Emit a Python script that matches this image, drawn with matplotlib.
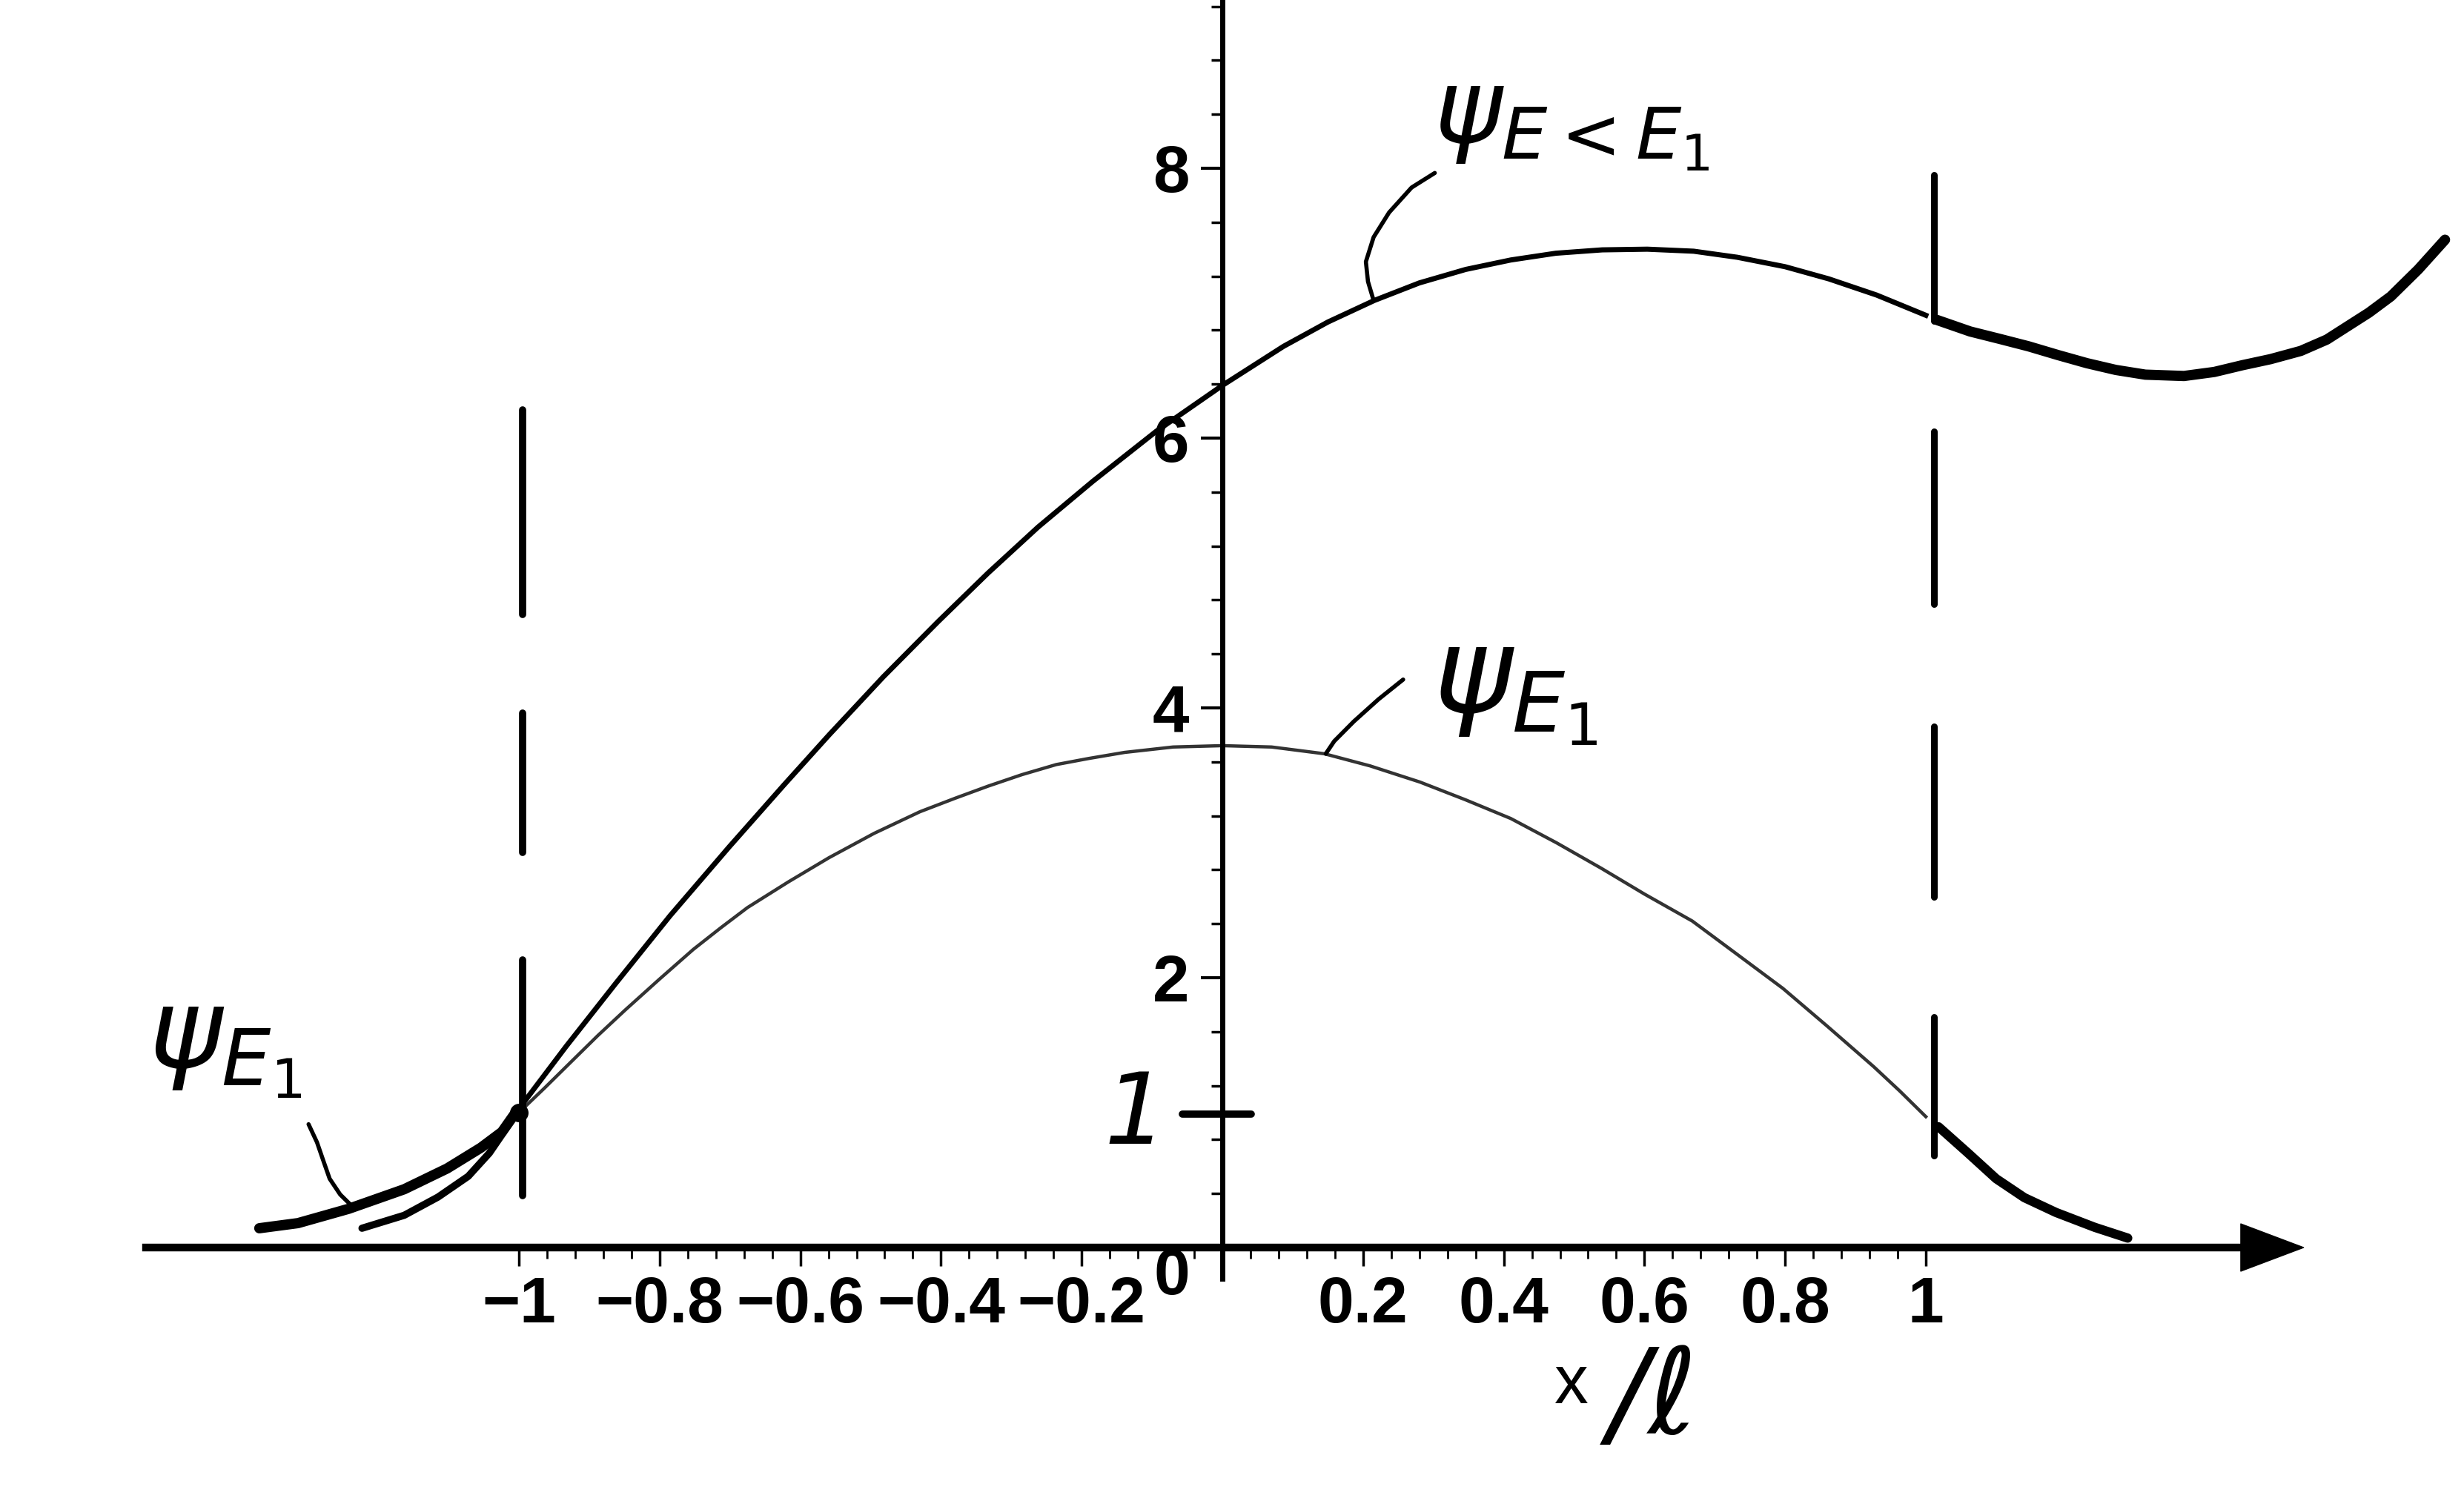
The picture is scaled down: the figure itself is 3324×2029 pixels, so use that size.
import numpy as np
import matplotlib
matplotlib.use("Agg")
import matplotlib.pyplot as plt

# psi_E1 inside the well (thin printed curve)
psi1_in_x = [-1.0, -0.963, -0.927, -0.888, -0.849, -0.80, -0.752, -0.713, -0.675, -0.617,
             -0.559, -0.495, -0.43, -0.38, -0.333, -0.285, -0.236, -0.19, -0.139, -0.07,
             0.0, 0.07, 0.145, 0.21, 0.281, 0.345, 0.41, 0.475, 0.539, 0.60,
             0.668, 0.73, 0.797, 0.86, 0.926, 0.963, 1.0]
psi1_in_y = [1.0, 1.185, 1.37, 1.57, 1.76, 1.99, 2.21, 2.37, 2.52, 2.71,
             2.89, 3.07, 3.23, 3.33, 3.42, 3.505, 3.58, 3.625, 3.67, 3.71,
             3.72, 3.71, 3.66, 3.57, 3.45, 3.32, 3.18, 3.00, 2.81, 2.62,
             2.42, 2.18, 1.92, 1.64, 1.34, 1.16, 0.97]

# psi_{E<E1} inside the well (printed curve)
psi0_in_x = [-1.004, -0.933, -0.862, -0.785, -0.701, -0.623, -0.559, -0.482, -0.404, -0.333,
             -0.262, -0.184, -0.094, 0.0, 0.087, 0.15, 0.216, 0.28, 0.346, 0.41,
             0.474, 0.54, 0.604, 0.67, 0.732, 0.80, 0.862, 0.93, 1.0]
psi0_in_y = [1.00, 1.49, 1.96, 2.46, 2.97, 3.43, 3.80, 4.23, 4.64, 5.00,
             5.34, 5.68, 6.05, 6.39, 6.68, 6.86, 7.02, 7.15, 7.25, 7.32,
             7.37, 7.395, 7.40, 7.385, 7.34, 7.27, 7.18, 7.06, 6.91]

# hand drawn parts outside the well
psi1_left_x = [-1.369, -1.314, -1.242, -1.163, -1.102, -1.054, -1.024, -1.006]
psi1_left_y = [0.143, 0.181, 0.287, 0.432, 0.586, 0.74, 0.857, 0.99]
psi0_left_x = [-1.223, -1.163, -1.115, -1.072, -1.042, -1.024, -1.007]
psi0_left_y = [0.143, 0.239, 0.374, 0.528, 0.70, 0.837, 0.98]
psi0_right_x = [1.016, 1.063, 1.105, 1.146, 1.188, 1.229, 1.27, 1.312, 1.367, 1.41,
                1.45, 1.49, 1.533, 1.57, 1.60, 1.63, 1.661, 1.70, 1.738]
psi0_right_y = [6.875, 6.79, 6.735, 6.68, 6.615, 6.555, 6.505, 6.47, 6.46, 6.49,
                6.54, 6.585, 6.646, 6.73, 6.83, 6.93, 7.05, 7.25, 7.47]
psi1_right_x = [1.018, 1.06, 1.10, 1.14, 1.185, 1.24, 1.287]
psi1_right_y = [0.895, 0.70, 0.51, 0.37, 0.26, 0.15, 0.07]

# dashed walls of the well (dash tops / bottoms)
wall_left_x = -0.995
wall_left_top = [6.21, 3.96, 2.13]
wall_left_bot = [4.69, 2.93, 0.385]
wall_right_x = 1.012
wall_right_top = [7.95, 6.05, 3.86, 1.71]
wall_right_bot = [6.87, 4.77, 2.60, 0.68]

# leader lines of the hand written labels
lead_top_x = [0.302, 0.269, 0.237, 0.215, 0.204, 0.207, 0.215]
lead_top_y = [7.965, 7.857, 7.672, 7.489, 7.307, 7.16, 7.02]
lead_mid_x = [0.257, 0.222, 0.187, 0.159, 0.147]
lead_mid_y = [4.21, 4.064, 3.90, 3.753, 3.66]
lead_left_x = [-1.299, -1.287, -1.278, -1.269, -1.254, -1.239]
lead_left_y = [0.914, 0.78, 0.644, 0.51, 0.393, 0.316]

x_major = [-1, -0.8, -0.6, -0.4, -0.2, 0.2, 0.4, 0.6, 0.8, 1]
x_labels = ["\u22121", "\u22120.8", "\u22120.6", "\u22120.4", "\u22120.2",
            "0.2", "0.4", "0.6", "0.8", "1"]
y_major = [2, 4, 6, 8]
y_labels = ["2", "4", "6", "8"]

plt.rcParams["mathtext.fontset"] = "dejavusans"

fig = plt.figure(figsize=(33.24, 20.29), dpi=100)
ax = fig.add_axes([0, 0, 1, 1])
ax.set_xlim(-1.7376, 1.7650)
ax.set_ylim(-1.901, 9.247)

# axes through the origin
ax.spines["top"].set_visible(False)
ax.spines["right"].set_visible(False)
ax.spines["left"].set_position(("data", 0))
ax.spines["bottom"].set_position(("data", 0))
ax.spines["bottom"].set_bounds(-1.53, 1.45)
ax.spines["left"].set_bounds(-0.23, 9.3)
ax.spines["bottom"].set_linewidth(7.5)
ax.spines["left"].set_linewidth(5)
ax.annotate("", xy=(1.537, 0), xytext=(1.40, 0),
            arrowprops=dict(facecolor="black", edgecolor="black", width=1,
                            headwidth=46, headlength=61, shrink=0))

ax.set_xticks(x_major)
ax.set_xticklabels(x_labels)
ax.set_xticks(np.round(np.arange(-1, 1.0001, 0.04), 2), minor=True)
ax.set_yticks(y_major)
ax.set_yticklabels(y_labels)
ax.set_yticks(np.round(np.arange(0.4, 9.25, 0.4), 2), minor=True)
ax.tick_params(axis="x", which="major", direction="out", length=18, width=2.5, pad=9,
               labelsize=63, labelfontfamily="Liberation Sans")
ax.tick_params(axis="x", which="minor", direction="out", length=11, width=2)
ax.tick_params(axis="y", which="major", direction="out", length=21, width=3, pad=11,
               labelsize=64, labelfontfamily="Liberation Sans")
ax.tick_params(axis="y", which="minor", direction="out", length=11, width=2.5)
for lab in ax.get_xticklabels() + ax.get_yticklabels():
    lab.set_fontweight("bold")
ax.text(-0.0717, -0.225, "0", fontsize=63, family="Liberation Sans", fontweight="bold",
        ha="center", va="center")

# curves
ax.plot(psi1_in_x, psi1_in_y, color="0.2", lw=3.2)
ax.plot(psi0_in_x, psi0_in_y, color="black", lw=5)
ax.plot(psi1_left_x, psi1_left_y, color="black", lw=10, solid_capstyle="round")
ax.plot(psi0_left_x, psi0_left_y, color="black", lw=7, solid_capstyle="round")
ax.plot(psi0_right_x, psi0_right_y, color="black", lw=10, solid_capstyle="round")
ax.plot(psi1_right_x, psi1_right_y, color="black", lw=9, solid_capstyle="round")
ax.plot([-1], [1], "o", color="black", markersize=17)

wl = ax.vlines([wall_left_x] * 3, wall_left_bot, wall_left_top, color="black", lw=7)
wr = ax.vlines([wall_right_x] * 4, wall_right_bot, wall_right_top, color="black", lw=6.5)
wl.set_capstyle("round")
wr.set_capstyle("round")

# leader lines and hand written labels
for lx, ly in [(lead_top_x, lead_top_y), (lead_mid_x, lead_mid_y), (lead_left_x, lead_left_y)]:
    ax.plot(lx, ly, color="black", lw=4, solid_capstyle="round")

ax.text(0.497, 8.335, r"$\psi_{E<E_1}$", fontsize=100, ha="center", va="center")
ax.text(0.416, 4.137, r"$\psi_{E_1}$", fontsize=116, ha="center", va="center")
ax.text(-1.418, 1.492, r"$\psi_{E_1}$", fontsize=108, ha="center", va="center")

hand = dict(family="DejaVu Sans", style="oblique", color="black")
ax.text(-0.123, 0.769, "1", fontsize=96, ha="center", va="baseline", **hand)
ax.plot([-0.057, 0.041], [0.99, 0.99], color="black", lw=7, solid_capstyle="round")

ax.text(0.4963, -1.154, "x", fontsize=66, family="Liberation Sans", ha="center", va="baseline")
ax.text(0.612, -1.137, "/\u2113", fontsize=116, ha="center", va="center", **hand)

fig.savefig("out.png", dpi=100, facecolor="white")
